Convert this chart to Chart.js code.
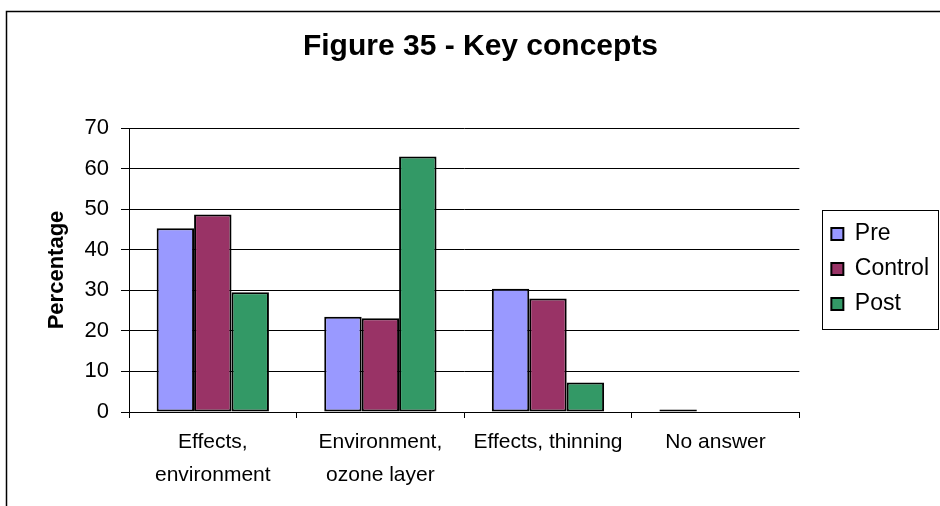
<!DOCTYPE html>
<html>
<head>
<meta charset="utf-8">
<script src="https://cdn.jsdelivr.net/npm/chart.js@4/dist/chart.umd.min.js"></script>
<style>
  html, body { margin: 0; padding: 0; background: #fff; overflow: hidden; }
  #wrap { width: 940px; height: 506px; position: relative; }
</style>
</head>
<body>
<div id="wrap"><canvas id="c" width="940" height="506"></canvas></div>
<script>
// Key concepts named by respondents, percentage per group
const categories = [["Effects,", "environment"], ["Environment,", "ozone layer"], "Effects, thinning", "No answer"];
const pre = [45.3, 23.5, 30.4, 0.6];
const control = [48.7, 23.1, 28.0, 0];
const post = [29.5, 63.0, 7.3, 0];
const yTicks = [0, 10, 20, 30, 40, 50, 60, 70];

const FONT = "'Liberation Sans', Arial, sans-serif";
const LEGEND_PAD = 12;

// Outer frame, title/legend placement and the legend border
const frame = {
  id: 'frame',
  afterLayout(chart) {
    const t = chart.titleBlock;
    if (t) { t.left += 21; t.right += 21; }
    const l = chart.legend;
    if (l && l.columnSizes && l.columnSizes.length) {
      // legend column sits a little right of the plot and centred on it
      const dx = (chart.chartArea.right + 32) - (l.left + LEGEND_PAD);
      l.left += dx; l.right += dx;
      const colH = l.columnSizes[0].height;
      const firstTop = (l.top + LEGEND_PAD + l.bottom - colH) / 2;
      const wantTop = (chart.chartArea.top + chart.chartArea.bottom) / 2 - (colH - LEGEND_PAD) / 2 - 1;
      const dy = wantTop - firstTop;
      l.top += dy; l.bottom += dy;
    }
  },
  beforeDraw(chart) {
    const ctx = chart.ctx;
    ctx.save();
    ctx.fillStyle = '#fff';
    ctx.fillRect(0, 0, chart.width, chart.height);
    ctx.strokeStyle = '#000';
    ctx.lineWidth = 1.5;
    ctx.strokeRect(6.5, 11.5, 1000, 1000);
    ctx.restore();
  },
  afterDraw(chart) {
    const hb = chart.legend && chart.legend.legendHitBoxes;
    if (!hb || !hb.length) return;
    const first = hb[0], last = hb[hb.length - 1];
    const ctx = chart.ctx;
    ctx.save();
    ctx.strokeStyle = '#000';
    ctx.lineWidth = 1;
    const x = Math.round(first.left - 9) + 0.5;
    const y = Math.round(first.top - 13) + 0.5;
    const h = Math.round(last.top + last.height - first.top + 26);
    ctx.strokeRect(x, y, 116, h);
    ctx.restore();
  }
};

new Chart(document.getElementById('c'), {
  type: 'bar',
  data: {
    labels: categories,
    datasets: [
      { label: 'Pre', data: pre, backgroundColor: '#9999FF' },
      { label: 'Control', data: control, backgroundColor: '#993366' },
      { label: 'Post', data: post, backgroundColor: '#339966' }
    ].map(d => Object.assign(d, { borderColor: '#000', borderWidth: 2, borderSkipped: false }))
  },
  options: {
    responsive: false,
    animation: false,
    devicePixelRatio: 1,
    layout: { padding: { left: 0, right: 21, top: 0, bottom: 0 } },
    datasets: { bar: { categoryPercentage: 0.67, barPercentage: 1.0 } },
    plugins: {
      title: {
        display: true,
        text: 'Figure 35 - Key concepts',
        color: '#000',
        font: { family: FONT, size: 30, weight: 'bold', lineHeight: 1.2 },
        padding: { top: 29, bottom: 63 }
      },
      legend: {
        display: true,
        position: 'right',
        labels: {
          color: '#000',
          font: { family: FONT, size: 23 },
          boxWidth: 12,
          boxHeight: 12,
          padding: LEGEND_PAD
        }
      },
      tooltip: { enabled: false }
    },
    scales: {
      x: {
        offset: true,
        grid: { display: true, drawOnChartArea: false, drawTicks: true, tickLength: 6, color: '#000', offset: true },
        border: { display: true, color: '#000', width: 1 },
        ticks: { color: '#000', font: { family: FONT, size: 21, lineHeight: 1.55 }, padding: 8, maxRotation: 0, autoSkip: false },
        afterFit(scale) { scale.height = 94; }
      },
      y: {
        min: 0,
        max: 70,
        afterBuildTicks(scale) { scale.ticks = yTicks.map(v => ({ value: v })); },
        grid: { color: '#000', lineWidth: 1, tickLength: 8, drawTicks: true },
        border: { display: true, color: '#000', width: 1 },
        ticks: { color: '#000', font: { family: FONT, size: 22 }, padding: 12 },
        title: {
          display: true,
          text: 'Percentage',
          color: '#000',
          font: { family: FONT, size: 22, weight: 'bold', lineHeight: 1.2 },
          padding: { top: 44, bottom: 0 }
        },
        afterFit(scale) { scale.width = 129; }
      }
    }
  },
  plugins: [frame]
});
</script>
</body>
</html>
